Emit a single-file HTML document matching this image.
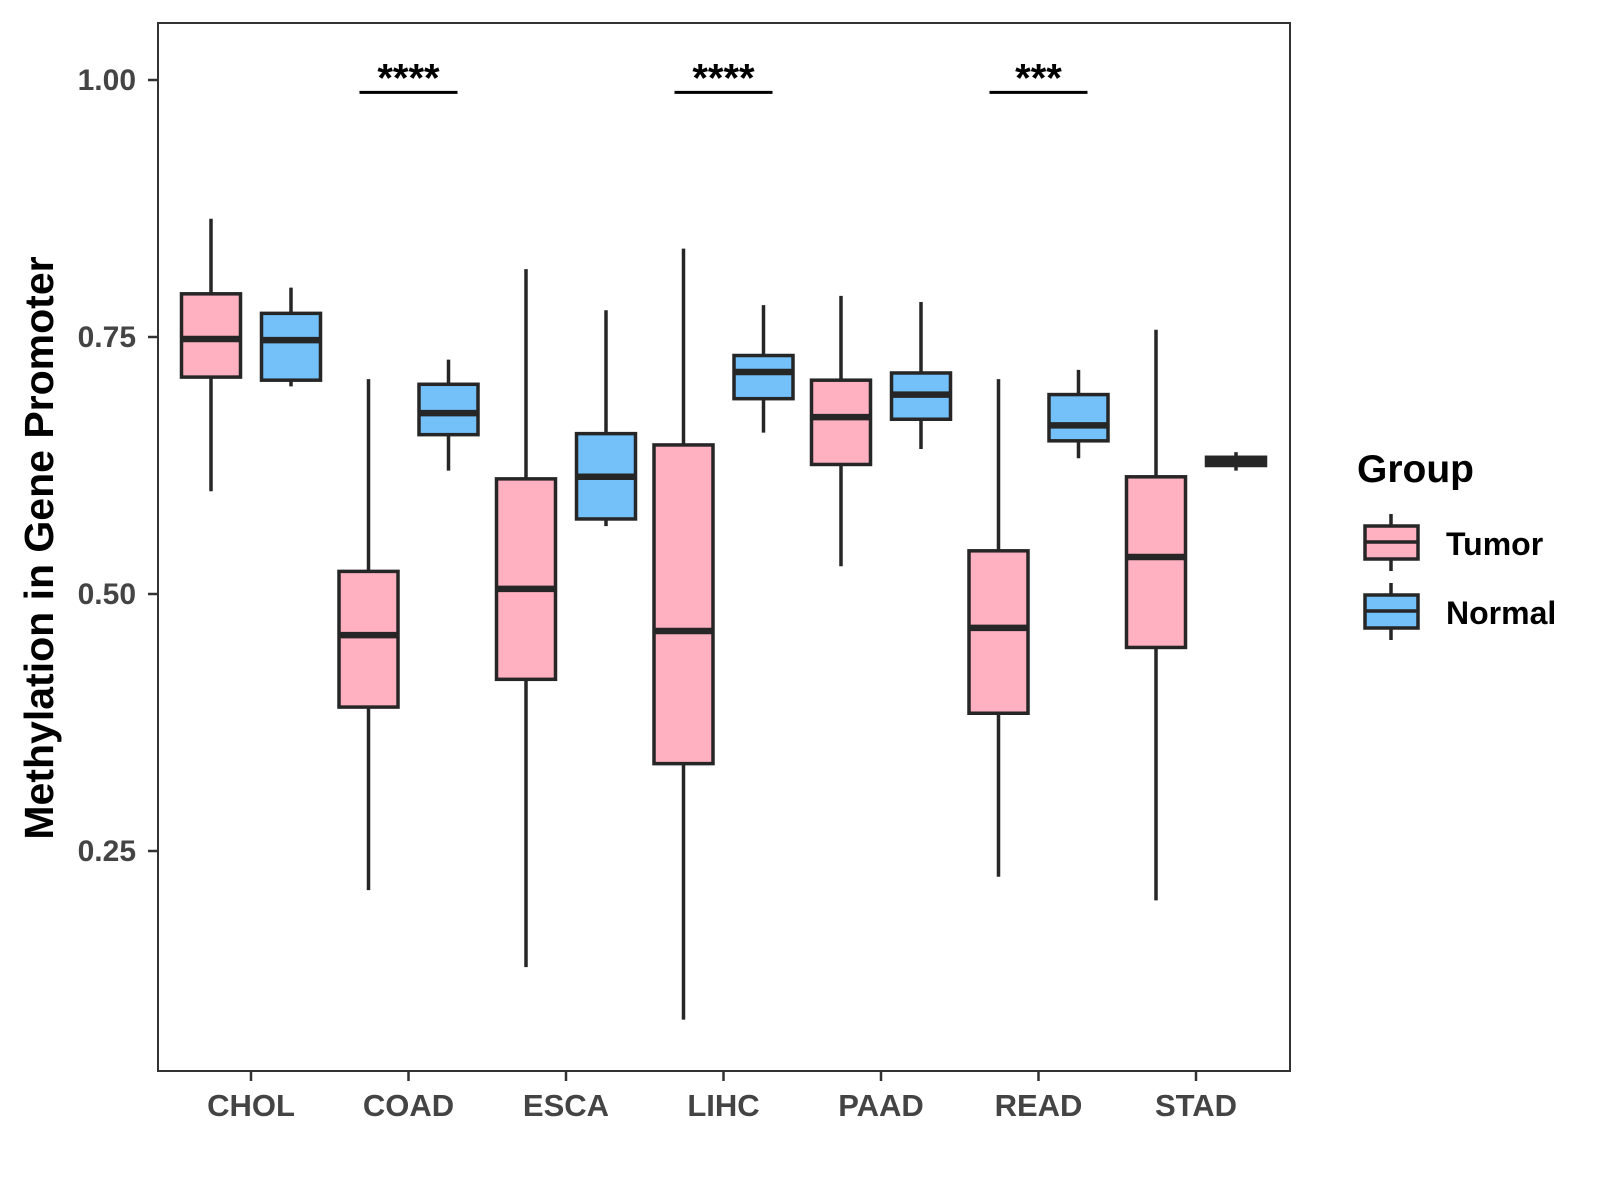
<!DOCTYPE html>
<html><head><meta charset="utf-8"><style>
html,body{margin:0;padding:0;background:#fff;width:1600px;height:1200px;overflow:hidden}
svg text{font-family:"Liberation Sans",Arial,sans-serif;font-weight:bold}
</style></head><body>
<svg id="chart" width="1600" height="1200" xmlns="http://www.w3.org/2000/svg">
<rect x="158" y="23" width="1132" height="1048" fill="#fff" stroke="#333" stroke-width="2"/>
<text transform="translate(53,548) rotate(-90)" text-anchor="middle" font-size="41" fill="#000">Methylation in Gene Promoter</text>
<g>
<text x="1357" y="482" font-size="39" fill="#000">Group</text>
<g>
<line x1="1391" y1="514" x2="1391" y2="571" stroke="#262626" stroke-width="3.5"/>
<rect x="1365" y="526" width="53" height="33" fill="#FFB0C1" stroke="#262626" stroke-width="3.5"/>
<line x1="1365" y1="542" x2="1418" y2="542" stroke="#262626" stroke-width="3.5"/>
<text x="1446" y="555" font-size="32" fill="#000">Tumor</text>
</g>
<g>
<line x1="1391" y1="583" x2="1391" y2="640" stroke="#262626" stroke-width="3.5"/>
<rect x="1365" y="595" width="53" height="33" fill="#74C0F8" stroke="#262626" stroke-width="3.5"/>
<line x1="1365" y1="611" x2="1418" y2="611" stroke="#262626" stroke-width="3.5"/>
<text x="1446" y="624" font-size="32" fill="#000">Normal</text>
</g>
</g>
<g id="marks"></g>
</svg>
<script>
const categories=["CHOL","COAD","ESCA","LIHC","PAAD","READ","STAD"];
// [low whisker, Q1, median, Q3, high whisker]
const tumorStats=[[0.600,0.711,0.748,0.792,0.865],[0.212,0.390,0.460,0.522,0.709],[0.137,0.417,0.505,0.612,0.816],[0.086,0.335,0.464,0.645,0.836],[0.527,0.626,0.672,0.708,0.790],[0.225,0.384,0.467,0.542,0.709],[0.202,0.448,0.536,0.614,0.757]];
const normalStats=[[0.702,0.708,0.747,0.773,0.798],[0.620,0.655,0.676,0.704,0.728],[0.566,0.573,0.614,0.656,0.776],[0.657,0.690,0.716,0.732,0.781],[0.641,0.670,0.694,0.715,0.784],[0.632,0.649,0.664,0.694,0.718],[0.620,0.625,0.629,0.633,0.638]];
const yTicks=[0.25,0.50,0.75,1.00];
const yTickLabels=["0.25","0.50","0.75","1.00"];
const sigCats=["COAD","LIHC","READ"];
const sigLabels=["****","****","***"];
const sigLevel=0.988;

const NS="http://www.w3.org/2000/svg";
const g=document.getElementById('marks');
function y(v){return 80+(1-v)*1028;}
function x(i){return 251+i*157.5;}
function el(t,a){const e=document.createElementNS(NS,t);for(const k in a)e.setAttribute(k,a[k]);g.appendChild(e);return e;}

yTicks.forEach((v,i)=>{
  const t=el('line',{x1:148,x2:158,y1:y(v),y2:y(v),stroke:'#333','stroke-width':2.5});
  
  
  const l=el('text',{x:136,y:y(v)+10,'text-anchor':'end','font-size':30,fill:'#444'});
  l.textContent=yTickLabels[i];
  
  
});
categories.forEach((c,i)=>{
  const t=el('line',{x1:x(i),x2:x(i),y1:1071,y2:1081,stroke:'#333','stroke-width':2.5});
  
  
  const l=el('text',{x:x(i),y:1116,'text-anchor':'middle','font-size':31,fill:'#444'});
  l.textContent=c;
  
  
});
function box(cx,s,fill,name){
  const w=59;
  const grp=document.createElementNS(NS,'g');
  
  
  g.appendChild(grp);
  const add=(t,a)=>{const e=document.createElementNS(NS,t);for(const k in a)e.setAttribute(k,a[k]);grp.appendChild(e);};
  add('line',{x1:cx,x2:cx,y1:y(s[4]),y2:y(s[0]),stroke:'#262626','stroke-width':3.5});
  add('rect',{x:cx-w/2,y:y(s[3]),width:w,height:Math.max(y(s[1])-y(s[3]),1),fill:fill,stroke:'#262626','stroke-width':3.5});
  add('line',{x1:cx-w/2,x2:cx+w/2,y1:y(s[2]),y2:y(s[2]),stroke:'#262626','stroke-width':6.5});
}
categories.forEach((c,i)=>{
  box(x(i)-40,tumorStats[i],'#FFB0C1','box-tumor-'+c.toLowerCase());
  box(x(i)+40,normalStats[i],'#74C0F8','box-normal-'+c.toLowerCase());
});
sigCats.forEach((c,k)=>{
  const i=categories.indexOf(c);
  const b=el('line',{x1:x(i)-49,x2:x(i)+49,y1:y(sigLevel),y2:y(sigLevel),stroke:'#000','stroke-width':3});
  
  
  const t=el('text',{x:x(i),y:y(sigLevel)-1,'text-anchor':'middle','font-size':40,fill:'#000'});
  t.textContent=sigLabels[k];
  
  
});
</script>
</body></html>
